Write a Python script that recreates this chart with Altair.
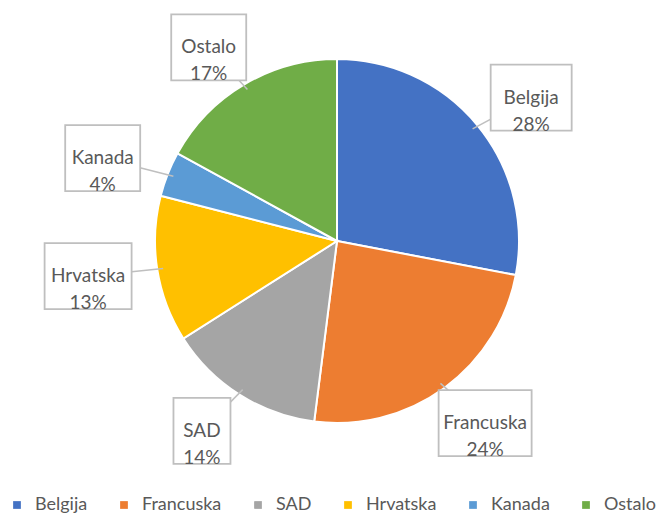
import altair as alt
import pandas as pd
import numpy as np

countries = ["Belgija", "Francuska", "SAD", "Hrvatska", "Kanada", "Ostalo"]
shares = [28, 24, 14, 13, 4, 17]
colors = ["#4472C4", "#ED7D31", "#A5A5A5", "#FFC000", "#5B9BD5", "#70AD47"]

W, H = 656, 506
CX, CY = 329, 233
R = 182
RX, RY = 252, 225

df = pd.DataFrame({"country": countries, "share": shares})
df["order"] = range(len(df))
total = df["share"].sum()
cum = df["share"].cumsum()
mid = (cum - df["share"] / 2) / total * 2 * np.pi
df["label"] = df["country"] + "\n" + df["share"].astype(str) + "%"
df["bx"] = RX * np.sin(mid)
df["by"] = -RY * np.cos(mid)
hw = df["country"].str.len() * 3 + 19.5
df["x0"] = df["bx"] - hw
df["x1"] = df["bx"] + hw
df["y0"] = df["by"] - 33
df["y1"] = df["by"] + 33
df["px"] = (R - 6) * np.sin(mid)
df["py"] = -(R - 6) * np.cos(mid)

xs = alt.Scale(domain=[-CX, W - CX], range=[0, W])
ys = alt.Scale(domain=[-CY, H - CY], range=[0, H])

font = "Lato"
tc = "#595959"

pie = alt.Chart(df).mark_arc(outerRadius=R, stroke="white", strokeWidth=2).encode(
    theta=alt.Theta("share:Q", stack=True),
    order=alt.Order("order:Q"),
    x=alt.value(CX),
    y=alt.value(CY),
    color=alt.Color(
        "country:N",
        scale=alt.Scale(domain=countries, range=colors),
        sort=countries,
        legend=alt.Legend(
            title=None,
            orient="none",
            direction="horizontal",
            legendX=0,
            legendY=488,
            symbolType="square",
            symbolSize=60,
            symbolStrokeWidth=0,
            labelFont=font,
            labelFontSize=18,
            labelColor=tc,
            labelOffset=9,
            columnPadding=27,
        ),
    ),
)

leaders = alt.Chart(df).mark_rule(color="#BFBFBF", strokeWidth=1.5).encode(
    x=alt.X("bx:Q", scale=xs, axis=None),
    y=alt.Y("by:Q", scale=ys, axis=None),
    x2="px:Q",
    y2="py:Q",
)

boxes = alt.Chart(df).mark_rect(fill="white", stroke="#BFBFBF", strokeWidth=1.8).encode(
    x=alt.X("x0:Q", scale=xs, axis=None),
    x2="x1:Q",
    y=alt.Y("y0:Q", scale=ys, axis=None),
    y2="y1:Q",
)

labels = alt.Chart(df).mark_text(
    font=font, fontSize=19, color=tc, lineBreak="\n", lineHeight=27,
    align="center", baseline="middle",
).encode(
    x=alt.X("bx:Q", scale=xs, axis=None),
    y=alt.Y("by:Q", scale=ys, axis=None),
    text="label:N",
)

chart = alt.layer(pie, leaders, boxes, labels).properties(
    width=W, height=H,
    autosize=alt.AutoSizeParams(type="none"),
    padding=0,
).configure_view(stroke=None)

chart.save("out.html", embed_options={"renderer": "svg", "actions": False})
